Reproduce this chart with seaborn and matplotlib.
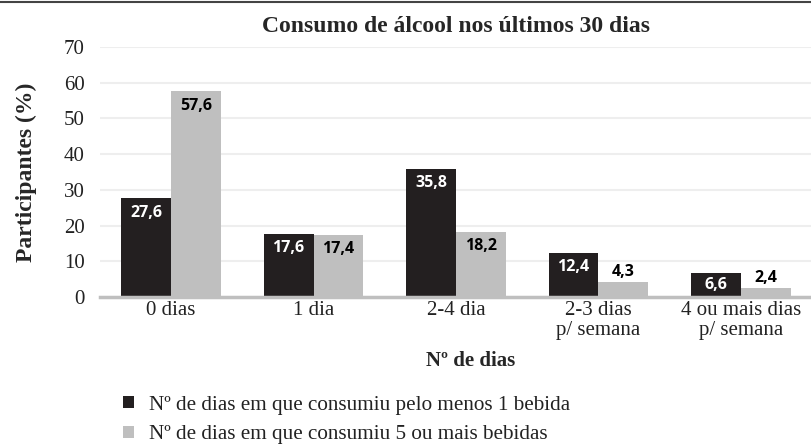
import matplotlib
matplotlib.use('Agg')

import seaborn as sns
import pandas as pd
import matplotlib.pyplot as plt
from matplotlib.patches import Patch
from matplotlib.lines import Line2D

# --- data ---
categories = ['0 dias', '1 dia', '2-4 dia', '2-3 dias\np/ semana', '4 ou mais dias\np/ semana']
series_names = ['Nº de dias em que consumiu pelo menos 1 bebida',
                'Nº de dias em que consumiu 5 ou mais bebidas']
pelo_menos_1 = [27.6, 17.6, 35.8, 12.4, 6.6]
cinco_ou_mais = [57.6, 17.4, 18.2, 4.3, 2.4]
y_ticks = [0, 10, 20, 30, 40, 50, 60, 70]

colors = ['#231f20', '#bfbfbf']

df = pd.DataFrame({
    'Categoria': categories * 2,
    'Serie': [series_names[0]] * len(categories) + [series_names[1]] * len(categories),
    'Valor': pelo_menos_1 + cinco_ou_mais,
})

sns.set_theme(style='white')
plt.rcParams['font.family'] = ['Liberation Serif', 'DejaVu Serif']

fig = plt.figure(figsize=(8.12, 4.48), dpi=100)
ax = fig.add_axes([0.123, 0.337, 0.877, 0.558])

sns.barplot(data=df, x='Categoria', y='Valor', hue='Serie', hue_order=series_names,
            palette=colors, width=0.7, gap=0, saturation=1, ax=ax, legend=False,
            edgecolor='none')

ax.set_xlim(-0.5, 4.5)
ax.set_ylim(0, 70)
ax.set_yticks(y_ticks)
ax.yaxis.grid(True, color='#eeeeee', linewidth=1.5)
ax.set_axisbelow(True)
for s in ['top', 'right', 'left']:
    ax.spines[s].set_visible(False)
ax.spines['bottom'].set_color('#bfbfbf')
ax.spines['bottom'].set_linewidth(2.5)
ax.tick_params(axis='both', length=0, labelsize=15, colors='#222222')
ax.tick_params(axis='x', pad=3)
ax.tick_params(axis='y', pad=11)
for t in ax.get_xticklabels():
    t.set_linespacing(1.05)
ax.set_xlabel('Nº de dias', fontsize=15, fontweight='bold')
ax.xaxis.set_label_coords(0.52, -0.215)
ax.set_ylabel('Participantes (%)', fontsize=17, fontweight='bold')
ax.yaxis.set_label_coords(-0.088, 0.5)
ax.set_title('Consumo de álcool nos últimos 30 dias', fontsize=17, fontweight='bold', pad=11)

# value labels
lab_font = dict(fontsize=11.5, fontweight='bold', family=['Open Sans', 'DejaVu Sans'],
                ha='center', va='center')
for cont, vals, idx in zip(ax.containers, [pelo_menos_1, cinco_ou_mais], [0, 1]):
    for bar, v in zip(cont, vals):
        xc = bar.get_x() + bar.get_width() / 2
        txt = f'{v:.1f}'.replace('.', ',')
        if idx == 0:
            ax.text(xc, max(v - 4, v / 2), txt, color='white', **lab_font)
        elif v > 8:
            ax.text(xc, v - 4, txt, color='black', **lab_font)
        else:
            ax.text(xc, v + 2.8, txt, color='black', **lab_font)

handles = [Patch(facecolor=c, edgecolor='none') for c in colors]
fig.legend(handles, series_names, loc='upper left', bbox_to_anchor=(0.152, 0.117),
           frameon=False, fontsize=15.2, handlelength=0.5, handleheight=0.5,
           handletextpad=0.7, labelspacing=0.5, borderaxespad=0, borderpad=0,
           labelcolor='#222222')

# thin frame line at the top of the image
fig.add_artist(Line2D([0, 1], [0.995, 0.995], color='#444444', linewidth=1.5,
                      transform=fig.transFigure))

fig.savefig('out.png', dpi=100)
